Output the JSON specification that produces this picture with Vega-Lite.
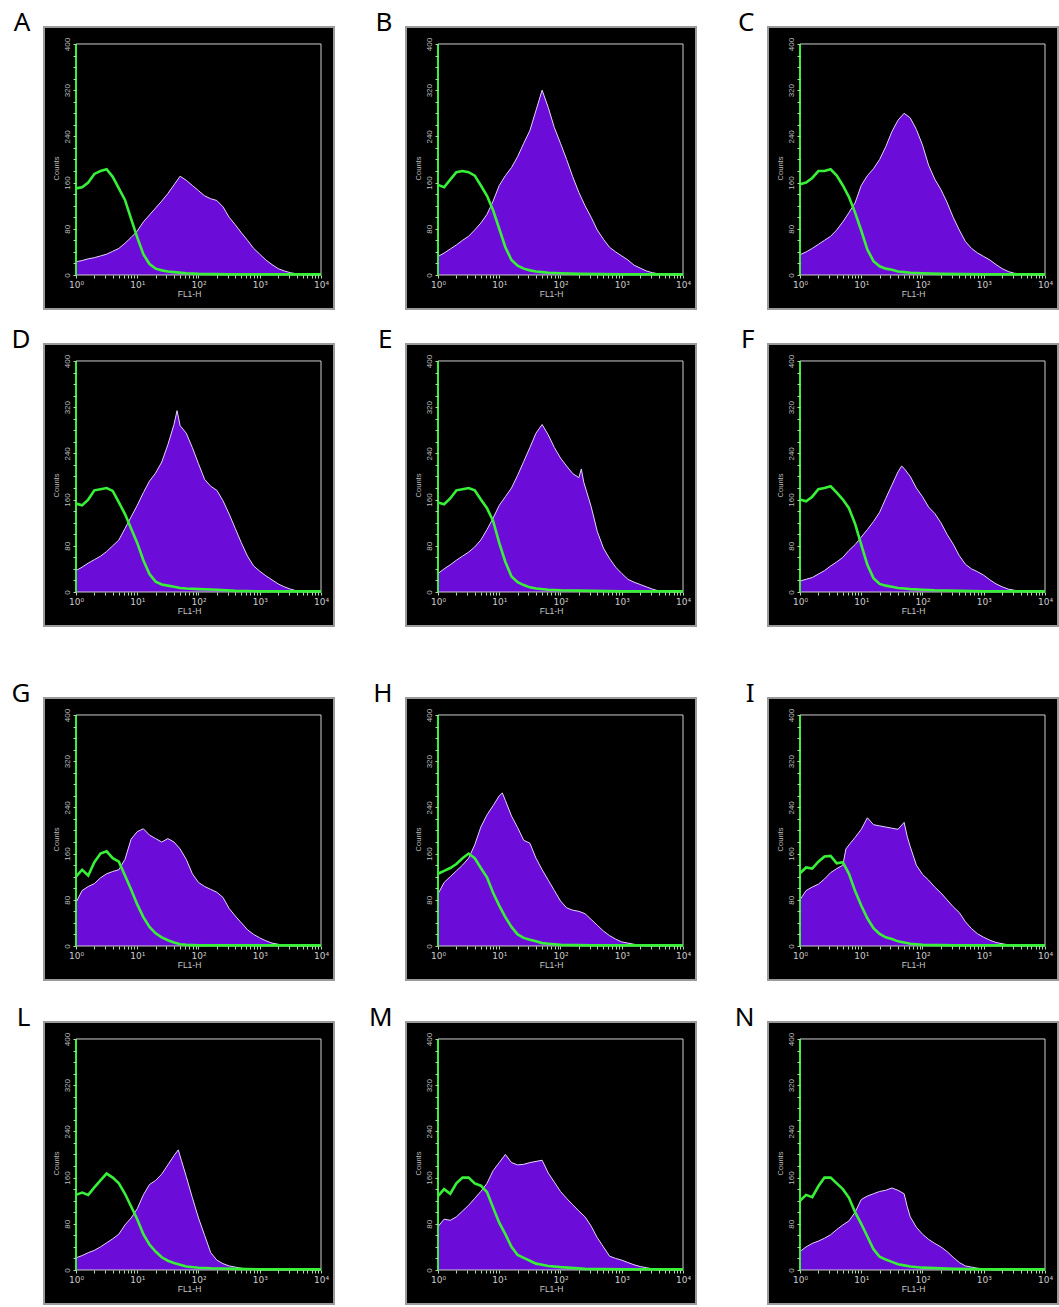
{
"$schema":"https://vega.github.io/schema/vega-lite/v6.json",
"background":"white",
"padding":{"left":10,"top":9,"right":0,"bottom":0},
"datasets":{"h":[
{"p":"A","s":"P","x":0,"y":23},{"p":"A","s":"P","x":0.1,"y":25},{"p":"A","s":"P","x":0.2,"y":28},{"p":"A","s":"P","x":0.3,"y":30},{"p":"A","s":"P","x":0.4,"y":33},{"p":"A","s":"P","x":0.5,"y":36},{"p":"A","s":"P","x":0.6,"y":41},{"p":"A","s":"P","x":0.7,"y":46},{"p":"A","s":"P","x":0.8,"y":55},{"p":"A","s":"P","x":0.9,"y":65},{"p":"A","s":"P","x":1,"y":76},{"p":"A","s":"P","x":1.1,"y":92},{"p":"A","s":"P","x":1.2,"y":104},{"p":"A","s":"P","x":1.3,"y":116},{"p":"A","s":"P","x":1.4,"y":128},{"p":"A","s":"P","x":1.5,"y":141},{"p":"A","s":"P","x":1.6,"y":156},{"p":"A","s":"P","x":1.7,"y":171},{"p":"A","s":"P","x":1.8,"y":164},{"p":"A","s":"P","x":1.9,"y":155},{"p":"A","s":"P","x":2,"y":146},{"p":"A","s":"P","x":2.1,"y":137},{"p":"A","s":"P","x":2.2,"y":132},{"p":"A","s":"P","x":2.3,"y":129},{"p":"A","s":"P","x":2.4,"y":118},{"p":"A","s":"P","x":2.5,"y":100},{"p":"A","s":"P","x":2.6,"y":87},{"p":"A","s":"P","x":2.7,"y":73},{"p":"A","s":"P","x":2.8,"y":60},{"p":"A","s":"P","x":2.9,"y":46},{"p":"A","s":"P","x":3,"y":36},{"p":"A","s":"P","x":3.1,"y":26},{"p":"A","s":"P","x":3.2,"y":18},{"p":"A","s":"P","x":3.3,"y":11},{"p":"A","s":"P","x":3.4,"y":7},{"p":"A","s":"P","x":3.5,"y":4},{"p":"A","s":"P","x":3.6,"y":2},{"p":"A","s":"P","x":3.7,"y":1},{"p":"A","s":"P","x":3.8,"y":0},{"p":"A","s":"P","x":4,"y":0},
{"p":"A","s":"G","x":0,"y":150},{"p":"A","s":"G","x":0.1,"y":152},{"p":"A","s":"G","x":0.2,"y":160},{"p":"A","s":"G","x":0.3,"y":175},{"p":"A","s":"G","x":0.4,"y":180},{"p":"A","s":"G","x":0.5,"y":183},{"p":"A","s":"G","x":0.6,"y":170},{"p":"A","s":"G","x":0.7,"y":150},{"p":"A","s":"G","x":0.8,"y":130},{"p":"A","s":"G","x":0.9,"y":97},{"p":"A","s":"G","x":1,"y":65},{"p":"A","s":"G","x":1.1,"y":36},{"p":"A","s":"G","x":1.2,"y":19},{"p":"A","s":"G","x":1.3,"y":11},{"p":"A","s":"G","x":1.4,"y":8},{"p":"A","s":"G","x":1.5,"y":6},{"p":"A","s":"G","x":1.6,"y":5},{"p":"A","s":"G","x":1.8,"y":3},{"p":"A","s":"G","x":2,"y":2},{"p":"A","s":"G","x":2.5,"y":1},{"p":"A","s":"G","x":4,"y":1},
{"p":"B","s":"P","x":0,"y":32},{"p":"B","s":"P","x":0.1,"y":38},{"p":"B","s":"P","x":0.2,"y":45},{"p":"B","s":"P","x":0.3,"y":52},{"p":"B","s":"P","x":0.4,"y":60},{"p":"B","s":"P","x":0.5,"y":67},{"p":"B","s":"P","x":0.6,"y":78},{"p":"B","s":"P","x":0.7,"y":90},{"p":"B","s":"P","x":0.8,"y":105},{"p":"B","s":"P","x":0.9,"y":128},{"p":"B","s":"P","x":1,"y":155},{"p":"B","s":"P","x":1.1,"y":172},{"p":"B","s":"P","x":1.2,"y":186},{"p":"B","s":"P","x":1.3,"y":205},{"p":"B","s":"P","x":1.4,"y":228},{"p":"B","s":"P","x":1.5,"y":250},{"p":"B","s":"P","x":1.6,"y":285},{"p":"B","s":"P","x":1.7,"y":320},{"p":"B","s":"P","x":1.8,"y":290},{"p":"B","s":"P","x":1.9,"y":255},{"p":"B","s":"P","x":2,"y":228},{"p":"B","s":"P","x":2.1,"y":200},{"p":"B","s":"P","x":2.2,"y":170},{"p":"B","s":"P","x":2.3,"y":143},{"p":"B","s":"P","x":2.4,"y":120},{"p":"B","s":"P","x":2.5,"y":100},{"p":"B","s":"P","x":2.6,"y":78},{"p":"B","s":"P","x":2.7,"y":62},{"p":"B","s":"P","x":2.8,"y":48},{"p":"B","s":"P","x":2.9,"y":40},{"p":"B","s":"P","x":3,"y":33},{"p":"B","s":"P","x":3.1,"y":26},{"p":"B","s":"P","x":3.2,"y":17},{"p":"B","s":"P","x":3.3,"y":12},{"p":"B","s":"P","x":3.4,"y":7},{"p":"B","s":"P","x":3.5,"y":4},{"p":"B","s":"P","x":3.6,"y":2},{"p":"B","s":"P","x":3.7,"y":1},{"p":"B","s":"P","x":3.8,"y":0},{"p":"B","s":"P","x":4,"y":0},
{"p":"B","s":"G","x":0,"y":156},{"p":"B","s":"G","x":0.1,"y":152},{"p":"B","s":"G","x":0.2,"y":165},{"p":"B","s":"G","x":0.3,"y":178},{"p":"B","s":"G","x":0.4,"y":180},{"p":"B","s":"G","x":0.5,"y":178},{"p":"B","s":"G","x":0.6,"y":172},{"p":"B","s":"G","x":0.7,"y":155},{"p":"B","s":"G","x":0.8,"y":137},{"p":"B","s":"G","x":0.9,"y":112},{"p":"B","s":"G","x":1,"y":80},{"p":"B","s":"G","x":1.1,"y":48},{"p":"B","s":"G","x":1.2,"y":26},{"p":"B","s":"G","x":1.3,"y":16},{"p":"B","s":"G","x":1.4,"y":11},{"p":"B","s":"G","x":1.5,"y":8},{"p":"B","s":"G","x":1.6,"y":6},{"p":"B","s":"G","x":1.7,"y":5},{"p":"B","s":"G","x":1.8,"y":4},{"p":"B","s":"G","x":2,"y":3},{"p":"B","s":"G","x":2.3,"y":2},{"p":"B","s":"G","x":3,"y":1},{"p":"B","s":"G","x":4,"y":1},
{"p":"C","s":"P","x":0,"y":35},{"p":"C","s":"P","x":0.1,"y":40},{"p":"C","s":"P","x":0.2,"y":46},{"p":"C","s":"P","x":0.3,"y":53},{"p":"C","s":"P","x":0.4,"y":60},{"p":"C","s":"P","x":0.5,"y":67},{"p":"C","s":"P","x":0.6,"y":78},{"p":"C","s":"P","x":0.7,"y":92},{"p":"C","s":"P","x":0.8,"y":108},{"p":"C","s":"P","x":0.9,"y":125},{"p":"C","s":"P","x":1,"y":155},{"p":"C","s":"P","x":1.1,"y":172},{"p":"C","s":"P","x":1.2,"y":184},{"p":"C","s":"P","x":1.3,"y":200},{"p":"C","s":"P","x":1.4,"y":222},{"p":"C","s":"P","x":1.5,"y":248},{"p":"C","s":"P","x":1.6,"y":268},{"p":"C","s":"P","x":1.7,"y":280},{"p":"C","s":"P","x":1.8,"y":272},{"p":"C","s":"P","x":1.9,"y":252},{"p":"C","s":"P","x":2,"y":225},{"p":"C","s":"P","x":2.1,"y":190},{"p":"C","s":"P","x":2.2,"y":166},{"p":"C","s":"P","x":2.3,"y":148},{"p":"C","s":"P","x":2.4,"y":126},{"p":"C","s":"P","x":2.5,"y":100},{"p":"C","s":"P","x":2.6,"y":78},{"p":"C","s":"P","x":2.7,"y":58},{"p":"C","s":"P","x":2.8,"y":46},{"p":"C","s":"P","x":2.9,"y":38},{"p":"C","s":"P","x":3,"y":32},{"p":"C","s":"P","x":3.1,"y":26},{"p":"C","s":"P","x":3.2,"y":18},{"p":"C","s":"P","x":3.3,"y":11},{"p":"C","s":"P","x":3.4,"y":6},{"p":"C","s":"P","x":3.5,"y":3},{"p":"C","s":"P","x":3.6,"y":2},{"p":"C","s":"P","x":3.7,"y":1},{"p":"C","s":"P","x":3.8,"y":0},{"p":"C","s":"P","x":4,"y":0},
{"p":"C","s":"G","x":0,"y":157},{"p":"C","s":"G","x":0.1,"y":160},{"p":"C","s":"G","x":0.2,"y":168},{"p":"C","s":"G","x":0.3,"y":180},{"p":"C","s":"G","x":0.4,"y":180},{"p":"C","s":"G","x":0.5,"y":183},{"p":"C","s":"G","x":0.6,"y":172},{"p":"C","s":"G","x":0.7,"y":155},{"p":"C","s":"G","x":0.8,"y":135},{"p":"C","s":"G","x":0.9,"y":108},{"p":"C","s":"G","x":1,"y":77},{"p":"C","s":"G","x":1.1,"y":44},{"p":"C","s":"G","x":1.2,"y":24},{"p":"C","s":"G","x":1.3,"y":15},{"p":"C","s":"G","x":1.4,"y":11},{"p":"C","s":"G","x":1.5,"y":9},{"p":"C","s":"G","x":1.6,"y":6},{"p":"C","s":"G","x":1.7,"y":5},{"p":"C","s":"G","x":1.8,"y":4},{"p":"C","s":"G","x":2,"y":3},{"p":"C","s":"G","x":2.3,"y":2},{"p":"C","s":"G","x":3,"y":1},{"p":"C","s":"G","x":4,"y":1},
{"p":"D","s":"P","x":0,"y":37},{"p":"D","s":"P","x":0.1,"y":43},{"p":"D","s":"P","x":0.2,"y":50},{"p":"D","s":"P","x":0.3,"y":56},{"p":"D","s":"P","x":0.4,"y":62},{"p":"D","s":"P","x":0.5,"y":70},{"p":"D","s":"P","x":0.6,"y":80},{"p":"D","s":"P","x":0.7,"y":90},{"p":"D","s":"P","x":0.8,"y":110},{"p":"D","s":"P","x":0.9,"y":130},{"p":"D","s":"P","x":1,"y":150},{"p":"D","s":"P","x":1.1,"y":172},{"p":"D","s":"P","x":1.2,"y":192},{"p":"D","s":"P","x":1.3,"y":206},{"p":"D","s":"P","x":1.4,"y":225},{"p":"D","s":"P","x":1.5,"y":255},{"p":"D","s":"P","x":1.6,"y":290},{"p":"D","s":"P","x":1.65,"y":314},{"p":"D","s":"P","x":1.7,"y":288},{"p":"D","s":"P","x":1.8,"y":275},{"p":"D","s":"P","x":1.9,"y":250},{"p":"D","s":"P","x":2,"y":222},{"p":"D","s":"P","x":2.1,"y":195},{"p":"D","s":"P","x":2.2,"y":183},{"p":"D","s":"P","x":2.3,"y":176},{"p":"D","s":"P","x":2.4,"y":158},{"p":"D","s":"P","x":2.5,"y":135},{"p":"D","s":"P","x":2.6,"y":110},{"p":"D","s":"P","x":2.7,"y":85},{"p":"D","s":"P","x":2.8,"y":62},{"p":"D","s":"P","x":2.9,"y":45},{"p":"D","s":"P","x":3,"y":36},{"p":"D","s":"P","x":3.1,"y":28},{"p":"D","s":"P","x":3.2,"y":21},{"p":"D","s":"P","x":3.3,"y":14},{"p":"D","s":"P","x":3.4,"y":9},{"p":"D","s":"P","x":3.5,"y":5},{"p":"D","s":"P","x":3.6,"y":2},{"p":"D","s":"P","x":3.7,"y":1},{"p":"D","s":"P","x":3.8,"y":0},{"p":"D","s":"P","x":4,"y":0},
{"p":"D","s":"G","x":0,"y":153},{"p":"D","s":"G","x":0.1,"y":150},{"p":"D","s":"G","x":0.2,"y":160},{"p":"D","s":"G","x":0.3,"y":176},{"p":"D","s":"G","x":0.4,"y":178},{"p":"D","s":"G","x":0.5,"y":180},{"p":"D","s":"G","x":0.6,"y":175},{"p":"D","s":"G","x":0.7,"y":155},{"p":"D","s":"G","x":0.8,"y":135},{"p":"D","s":"G","x":0.9,"y":110},{"p":"D","s":"G","x":1,"y":85},{"p":"D","s":"G","x":1.1,"y":55},{"p":"D","s":"G","x":1.2,"y":31},{"p":"D","s":"G","x":1.3,"y":18},{"p":"D","s":"G","x":1.4,"y":13},{"p":"D","s":"G","x":1.5,"y":11},{"p":"D","s":"G","x":1.6,"y":9},{"p":"D","s":"G","x":1.7,"y":7},{"p":"D","s":"G","x":1.8,"y":6},{"p":"D","s":"G","x":2,"y":5},{"p":"D","s":"G","x":2.3,"y":4},{"p":"D","s":"G","x":2.6,"y":2},{"p":"D","s":"G","x":3,"y":1},{"p":"D","s":"G","x":4,"y":1},
{"p":"E","s":"P","x":0,"y":32},{"p":"E","s":"P","x":0.1,"y":40},{"p":"E","s":"P","x":0.2,"y":47},{"p":"E","s":"P","x":0.3,"y":55},{"p":"E","s":"P","x":0.4,"y":62},{"p":"E","s":"P","x":0.5,"y":69},{"p":"E","s":"P","x":0.6,"y":78},{"p":"E","s":"P","x":0.7,"y":90},{"p":"E","s":"P","x":0.8,"y":108},{"p":"E","s":"P","x":0.9,"y":128},{"p":"E","s":"P","x":1,"y":150},{"p":"E","s":"P","x":1.1,"y":165},{"p":"E","s":"P","x":1.2,"y":180},{"p":"E","s":"P","x":1.3,"y":202},{"p":"E","s":"P","x":1.4,"y":226},{"p":"E","s":"P","x":1.5,"y":250},{"p":"E","s":"P","x":1.6,"y":275},{"p":"E","s":"P","x":1.7,"y":290},{"p":"E","s":"P","x":1.8,"y":272},{"p":"E","s":"P","x":1.9,"y":250},{"p":"E","s":"P","x":2,"y":232},{"p":"E","s":"P","x":2.1,"y":218},{"p":"E","s":"P","x":2.2,"y":205},{"p":"E","s":"P","x":2.3,"y":198},{"p":"E","s":"P","x":2.34,"y":213},{"p":"E","s":"P","x":2.38,"y":190},{"p":"E","s":"P","x":2.5,"y":148},{"p":"E","s":"P","x":2.6,"y":105},{"p":"E","s":"P","x":2.7,"y":76},{"p":"E","s":"P","x":2.8,"y":58},{"p":"E","s":"P","x":2.9,"y":43},{"p":"E","s":"P","x":3,"y":32},{"p":"E","s":"P","x":3.1,"y":22},{"p":"E","s":"P","x":3.2,"y":17},{"p":"E","s":"P","x":3.3,"y":13},{"p":"E","s":"P","x":3.4,"y":9},{"p":"E","s":"P","x":3.5,"y":5},{"p":"E","s":"P","x":3.6,"y":2},{"p":"E","s":"P","x":3.7,"y":1},{"p":"E","s":"P","x":3.8,"y":0},{"p":"E","s":"P","x":4,"y":0},
{"p":"E","s":"G","x":0,"y":155},{"p":"E","s":"G","x":0.1,"y":152},{"p":"E","s":"G","x":0.2,"y":162},{"p":"E","s":"G","x":0.3,"y":176},{"p":"E","s":"G","x":0.4,"y":178},{"p":"E","s":"G","x":0.5,"y":180},{"p":"E","s":"G","x":0.6,"y":176},{"p":"E","s":"G","x":0.7,"y":160},{"p":"E","s":"G","x":0.8,"y":145},{"p":"E","s":"G","x":0.9,"y":123},{"p":"E","s":"G","x":1,"y":85},{"p":"E","s":"G","x":1.1,"y":52},{"p":"E","s":"G","x":1.2,"y":27},{"p":"E","s":"G","x":1.3,"y":17},{"p":"E","s":"G","x":1.4,"y":12},{"p":"E","s":"G","x":1.5,"y":8},{"p":"E","s":"G","x":1.6,"y":6},{"p":"E","s":"G","x":1.8,"y":4},{"p":"E","s":"G","x":2,"y":3},{"p":"E","s":"G","x":2.5,"y":2},{"p":"E","s":"G","x":3,"y":1},{"p":"E","s":"G","x":4,"y":1},
{"p":"F","s":"P","x":0,"y":19},{"p":"F","s":"P","x":0.1,"y":22},{"p":"F","s":"P","x":0.2,"y":25},{"p":"F","s":"P","x":0.3,"y":31},{"p":"F","s":"P","x":0.4,"y":37},{"p":"F","s":"P","x":0.5,"y":45},{"p":"F","s":"P","x":0.6,"y":52},{"p":"F","s":"P","x":0.7,"y":60},{"p":"F","s":"P","x":0.8,"y":72},{"p":"F","s":"P","x":0.9,"y":82},{"p":"F","s":"P","x":1,"y":95},{"p":"F","s":"P","x":1.1,"y":108},{"p":"F","s":"P","x":1.2,"y":122},{"p":"F","s":"P","x":1.3,"y":138},{"p":"F","s":"P","x":1.4,"y":162},{"p":"F","s":"P","x":1.5,"y":185},{"p":"F","s":"P","x":1.6,"y":208},{"p":"F","s":"P","x":1.66,"y":218},{"p":"F","s":"P","x":1.7,"y":214},{"p":"F","s":"P","x":1.8,"y":200},{"p":"F","s":"P","x":1.9,"y":180},{"p":"F","s":"P","x":2,"y":165},{"p":"F","s":"P","x":2.1,"y":147},{"p":"F","s":"P","x":2.2,"y":136},{"p":"F","s":"P","x":2.3,"y":120},{"p":"F","s":"P","x":2.4,"y":100},{"p":"F","s":"P","x":2.5,"y":83},{"p":"F","s":"P","x":2.6,"y":63},{"p":"F","s":"P","x":2.7,"y":48},{"p":"F","s":"P","x":2.8,"y":40},{"p":"F","s":"P","x":2.9,"y":35},{"p":"F","s":"P","x":3,"y":29},{"p":"F","s":"P","x":3.1,"y":21},{"p":"F","s":"P","x":3.2,"y":14},{"p":"F","s":"P","x":3.3,"y":9},{"p":"F","s":"P","x":3.4,"y":5},{"p":"F","s":"P","x":3.5,"y":3},{"p":"F","s":"P","x":3.6,"y":1},{"p":"F","s":"P","x":3.7,"y":0},{"p":"F","s":"P","x":4,"y":0},
{"p":"F","s":"G","x":0,"y":160},{"p":"F","s":"G","x":0.1,"y":157},{"p":"F","s":"G","x":0.2,"y":165},{"p":"F","s":"G","x":0.3,"y":178},{"p":"F","s":"G","x":0.4,"y":180},{"p":"F","s":"G","x":0.5,"y":183},{"p":"F","s":"G","x":0.6,"y":172},{"p":"F","s":"G","x":0.7,"y":160},{"p":"F","s":"G","x":0.8,"y":145},{"p":"F","s":"G","x":0.9,"y":118},{"p":"F","s":"G","x":1,"y":82},{"p":"F","s":"G","x":1.1,"y":47},{"p":"F","s":"G","x":1.2,"y":24},{"p":"F","s":"G","x":1.3,"y":14},{"p":"F","s":"G","x":1.4,"y":11},{"p":"F","s":"G","x":1.5,"y":9},{"p":"F","s":"G","x":1.6,"y":7},{"p":"F","s":"G","x":1.7,"y":6},{"p":"F","s":"G","x":1.8,"y":5},{"p":"F","s":"G","x":2,"y":4},{"p":"F","s":"G","x":2.2,"y":3},{"p":"F","s":"G","x":2.6,"y":2},{"p":"F","s":"G","x":3,"y":1},{"p":"F","s":"G","x":4,"y":1},
{"p":"G","s":"P","x":0,"y":75},{"p":"G","s":"P","x":0.1,"y":96},{"p":"G","s":"P","x":0.2,"y":103},{"p":"G","s":"P","x":0.3,"y":108},{"p":"G","s":"P","x":0.4,"y":118},{"p":"G","s":"P","x":0.5,"y":125},{"p":"G","s":"P","x":0.6,"y":129},{"p":"G","s":"P","x":0.7,"y":132},{"p":"G","s":"P","x":0.8,"y":150},{"p":"G","s":"P","x":0.9,"y":185},{"p":"G","s":"P","x":1,"y":198},{"p":"G","s":"P","x":1.1,"y":203},{"p":"G","s":"P","x":1.2,"y":192},{"p":"G","s":"P","x":1.3,"y":186},{"p":"G","s":"P","x":1.4,"y":180},{"p":"G","s":"P","x":1.5,"y":186},{"p":"G","s":"P","x":1.6,"y":180},{"p":"G","s":"P","x":1.7,"y":168},{"p":"G","s":"P","x":1.8,"y":150},{"p":"G","s":"P","x":1.9,"y":125},{"p":"G","s":"P","x":2,"y":110},{"p":"G","s":"P","x":2.1,"y":103},{"p":"G","s":"P","x":2.2,"y":98},{"p":"G","s":"P","x":2.3,"y":93},{"p":"G","s":"P","x":2.4,"y":84},{"p":"G","s":"P","x":2.5,"y":65},{"p":"G","s":"P","x":2.6,"y":52},{"p":"G","s":"P","x":2.7,"y":40},{"p":"G","s":"P","x":2.8,"y":28},{"p":"G","s":"P","x":2.9,"y":20},{"p":"G","s":"P","x":3,"y":14},{"p":"G","s":"P","x":3.1,"y":9},{"p":"G","s":"P","x":3.2,"y":5},{"p":"G","s":"P","x":3.3,"y":3},{"p":"G","s":"P","x":3.4,"y":1},{"p":"G","s":"P","x":3.5,"y":0},{"p":"G","s":"P","x":4,"y":0},
{"p":"G","s":"G","x":0,"y":120},{"p":"G","s":"G","x":0.1,"y":132},{"p":"G","s":"G","x":0.2,"y":122},{"p":"G","s":"G","x":0.3,"y":145},{"p":"G","s":"G","x":0.4,"y":160},{"p":"G","s":"G","x":0.5,"y":164},{"p":"G","s":"G","x":0.6,"y":152},{"p":"G","s":"G","x":0.7,"y":146},{"p":"G","s":"G","x":0.8,"y":122},{"p":"G","s":"G","x":0.9,"y":98},{"p":"G","s":"G","x":1,"y":72},{"p":"G","s":"G","x":1.1,"y":50},{"p":"G","s":"G","x":1.2,"y":33},{"p":"G","s":"G","x":1.3,"y":22},{"p":"G","s":"G","x":1.4,"y":15},{"p":"G","s":"G","x":1.5,"y":10},{"p":"G","s":"G","x":1.6,"y":6},{"p":"G","s":"G","x":1.7,"y":3},{"p":"G","s":"G","x":1.8,"y":2},{"p":"G","s":"G","x":2,"y":1},{"p":"G","s":"G","x":4,"y":1},
{"p":"H","s":"P","x":0,"y":90},{"p":"H","s":"P","x":0.1,"y":110},{"p":"H","s":"P","x":0.2,"y":120},{"p":"H","s":"P","x":0.3,"y":130},{"p":"H","s":"P","x":0.4,"y":140},{"p":"H","s":"P","x":0.5,"y":152},{"p":"H","s":"P","x":0.6,"y":175},{"p":"H","s":"P","x":0.7,"y":206},{"p":"H","s":"P","x":0.8,"y":227},{"p":"H","s":"P","x":0.9,"y":243},{"p":"H","s":"P","x":1,"y":260},{"p":"H","s":"P","x":1.05,"y":265},{"p":"H","s":"P","x":1.1,"y":252},{"p":"H","s":"P","x":1.2,"y":225},{"p":"H","s":"P","x":1.3,"y":205},{"p":"H","s":"P","x":1.4,"y":183},{"p":"H","s":"P","x":1.5,"y":178},{"p":"H","s":"P","x":1.6,"y":152},{"p":"H","s":"P","x":1.7,"y":132},{"p":"H","s":"P","x":1.8,"y":114},{"p":"H","s":"P","x":1.9,"y":96},{"p":"H","s":"P","x":2,"y":78},{"p":"H","s":"P","x":2.1,"y":66},{"p":"H","s":"P","x":2.2,"y":62},{"p":"H","s":"P","x":2.3,"y":60},{"p":"H","s":"P","x":2.4,"y":56},{"p":"H","s":"P","x":2.5,"y":46},{"p":"H","s":"P","x":2.6,"y":36},{"p":"H","s":"P","x":2.7,"y":26},{"p":"H","s":"P","x":2.8,"y":18},{"p":"H","s":"P","x":2.9,"y":12},{"p":"H","s":"P","x":3,"y":7},{"p":"H","s":"P","x":3.1,"y":5},{"p":"H","s":"P","x":3.2,"y":3},{"p":"H","s":"P","x":3.3,"y":1},{"p":"H","s":"P","x":3.4,"y":0},{"p":"H","s":"P","x":4,"y":0},
{"p":"H","s":"G","x":0,"y":125},{"p":"H","s":"G","x":0.1,"y":130},{"p":"H","s":"G","x":0.2,"y":135},{"p":"H","s":"G","x":0.3,"y":142},{"p":"H","s":"G","x":0.4,"y":152},{"p":"H","s":"G","x":0.5,"y":160},{"p":"H","s":"G","x":0.6,"y":152},{"p":"H","s":"G","x":0.7,"y":135},{"p":"H","s":"G","x":0.8,"y":119},{"p":"H","s":"G","x":0.9,"y":92},{"p":"H","s":"G","x":1,"y":70},{"p":"H","s":"G","x":1.1,"y":50},{"p":"H","s":"G","x":1.2,"y":33},{"p":"H","s":"G","x":1.3,"y":20},{"p":"H","s":"G","x":1.4,"y":14},{"p":"H","s":"G","x":1.5,"y":11},{"p":"H","s":"G","x":1.6,"y":8},{"p":"H","s":"G","x":1.7,"y":5},{"p":"H","s":"G","x":1.8,"y":4},{"p":"H","s":"G","x":2,"y":2},{"p":"H","s":"G","x":2.5,"y":1},{"p":"H","s":"G","x":4,"y":1},
{"p":"I","s":"P","x":0,"y":80},{"p":"I","s":"P","x":0.1,"y":96},{"p":"I","s":"P","x":0.2,"y":102},{"p":"I","s":"P","x":0.3,"y":107},{"p":"I","s":"P","x":0.4,"y":116},{"p":"I","s":"P","x":0.5,"y":127},{"p":"I","s":"P","x":0.6,"y":134},{"p":"I","s":"P","x":0.7,"y":140},{"p":"I","s":"P","x":0.75,"y":168},{"p":"I","s":"P","x":0.8,"y":175},{"p":"I","s":"P","x":0.9,"y":188},{"p":"I","s":"P","x":1,"y":202},{"p":"I","s":"P","x":1.1,"y":222},{"p":"I","s":"P","x":1.2,"y":210},{"p":"I","s":"P","x":1.3,"y":208},{"p":"I","s":"P","x":1.4,"y":206},{"p":"I","s":"P","x":1.5,"y":204},{"p":"I","s":"P","x":1.6,"y":202},{"p":"I","s":"P","x":1.7,"y":214},{"p":"I","s":"P","x":1.75,"y":190},{"p":"I","s":"P","x":1.8,"y":172},{"p":"I","s":"P","x":1.9,"y":140},{"p":"I","s":"P","x":2,"y":124},{"p":"I","s":"P","x":2.1,"y":114},{"p":"I","s":"P","x":2.2,"y":102},{"p":"I","s":"P","x":2.3,"y":92},{"p":"I","s":"P","x":2.4,"y":80},{"p":"I","s":"P","x":2.5,"y":68},{"p":"I","s":"P","x":2.6,"y":58},{"p":"I","s":"P","x":2.7,"y":42},{"p":"I","s":"P","x":2.8,"y":30},{"p":"I","s":"P","x":2.9,"y":21},{"p":"I","s":"P","x":3,"y":15},{"p":"I","s":"P","x":3.1,"y":10},{"p":"I","s":"P","x":3.2,"y":6},{"p":"I","s":"P","x":3.3,"y":4},{"p":"I","s":"P","x":3.4,"y":2},{"p":"I","s":"P","x":3.5,"y":0},{"p":"I","s":"P","x":4,"y":0},
{"p":"I","s":"G","x":0,"y":126},{"p":"I","s":"G","x":0.1,"y":136},{"p":"I","s":"G","x":0.2,"y":134},{"p":"I","s":"G","x":0.3,"y":146},{"p":"I","s":"G","x":0.4,"y":155},{"p":"I","s":"G","x":0.5,"y":156},{"p":"I","s":"G","x":0.6,"y":143},{"p":"I","s":"G","x":0.7,"y":145},{"p":"I","s":"G","x":0.8,"y":125},{"p":"I","s":"G","x":0.9,"y":95},{"p":"I","s":"G","x":1,"y":70},{"p":"I","s":"G","x":1.1,"y":48},{"p":"I","s":"G","x":1.2,"y":31},{"p":"I","s":"G","x":1.3,"y":21},{"p":"I","s":"G","x":1.4,"y":15},{"p":"I","s":"G","x":1.5,"y":12},{"p":"I","s":"G","x":1.6,"y":8},{"p":"I","s":"G","x":1.8,"y":4},{"p":"I","s":"G","x":2,"y":2},{"p":"I","s":"G","x":2.5,"y":1},{"p":"I","s":"G","x":4,"y":1},
{"p":"L","s":"P","x":0,"y":21},{"p":"L","s":"P","x":0.1,"y":25},{"p":"L","s":"P","x":0.2,"y":30},{"p":"L","s":"P","x":0.3,"y":34},{"p":"L","s":"P","x":0.4,"y":40},{"p":"L","s":"P","x":0.5,"y":47},{"p":"L","s":"P","x":0.6,"y":54},{"p":"L","s":"P","x":0.7,"y":62},{"p":"L","s":"P","x":0.8,"y":78},{"p":"L","s":"P","x":0.9,"y":90},{"p":"L","s":"P","x":1,"y":106},{"p":"L","s":"P","x":1.1,"y":130},{"p":"L","s":"P","x":1.2,"y":148},{"p":"L","s":"P","x":1.3,"y":155},{"p":"L","s":"P","x":1.4,"y":166},{"p":"L","s":"P","x":1.5,"y":182},{"p":"L","s":"P","x":1.6,"y":198},{"p":"L","s":"P","x":1.67,"y":208},{"p":"L","s":"P","x":1.72,"y":190},{"p":"L","s":"P","x":1.8,"y":162},{"p":"L","s":"P","x":1.9,"y":125},{"p":"L","s":"P","x":2,"y":90},{"p":"L","s":"P","x":2.1,"y":60},{"p":"L","s":"P","x":2.2,"y":30},{"p":"L","s":"P","x":2.3,"y":17},{"p":"L","s":"P","x":2.4,"y":11},{"p":"L","s":"P","x":2.5,"y":7},{"p":"L","s":"P","x":2.6,"y":5},{"p":"L","s":"P","x":2.7,"y":3},{"p":"L","s":"P","x":2.8,"y":2},{"p":"L","s":"P","x":2.9,"y":1},{"p":"L","s":"P","x":3,"y":0},{"p":"L","s":"P","x":4,"y":0},
{"p":"L","s":"G","x":0,"y":130},{"p":"L","s":"G","x":0.1,"y":134},{"p":"L","s":"G","x":0.2,"y":130},{"p":"L","s":"G","x":0.3,"y":143},{"p":"L","s":"G","x":0.4,"y":155},{"p":"L","s":"G","x":0.5,"y":167},{"p":"L","s":"G","x":0.6,"y":160},{"p":"L","s":"G","x":0.7,"y":150},{"p":"L","s":"G","x":0.8,"y":132},{"p":"L","s":"G","x":0.9,"y":110},{"p":"L","s":"G","x":1,"y":88},{"p":"L","s":"G","x":1.1,"y":62},{"p":"L","s":"G","x":1.2,"y":44},{"p":"L","s":"G","x":1.3,"y":32},{"p":"L","s":"G","x":1.4,"y":22},{"p":"L","s":"G","x":1.5,"y":16},{"p":"L","s":"G","x":1.6,"y":12},{"p":"L","s":"G","x":1.7,"y":9},{"p":"L","s":"G","x":1.8,"y":6},{"p":"L","s":"G","x":2,"y":4},{"p":"L","s":"G","x":2.2,"y":3},{"p":"L","s":"G","x":2.6,"y":2},{"p":"L","s":"G","x":3,"y":1},{"p":"L","s":"G","x":4,"y":1},
{"p":"M","s":"P","x":0,"y":75},{"p":"M","s":"P","x":0.1,"y":88},{"p":"M","s":"P","x":0.2,"y":86},{"p":"M","s":"P","x":0.3,"y":92},{"p":"M","s":"P","x":0.4,"y":102},{"p":"M","s":"P","x":0.5,"y":112},{"p":"M","s":"P","x":0.6,"y":124},{"p":"M","s":"P","x":0.7,"y":136},{"p":"M","s":"P","x":0.8,"y":150},{"p":"M","s":"P","x":0.9,"y":172},{"p":"M","s":"P","x":1,"y":186},{"p":"M","s":"P","x":1.1,"y":200},{"p":"M","s":"P","x":1.2,"y":186},{"p":"M","s":"P","x":1.3,"y":182},{"p":"M","s":"P","x":1.4,"y":183},{"p":"M","s":"P","x":1.5,"y":186},{"p":"M","s":"P","x":1.6,"y":188},{"p":"M","s":"P","x":1.7,"y":190},{"p":"M","s":"P","x":1.8,"y":168},{"p":"M","s":"P","x":1.9,"y":152},{"p":"M","s":"P","x":2,"y":136},{"p":"M","s":"P","x":2.1,"y":124},{"p":"M","s":"P","x":2.2,"y":113},{"p":"M","s":"P","x":2.3,"y":102},{"p":"M","s":"P","x":2.4,"y":92},{"p":"M","s":"P","x":2.5,"y":76},{"p":"M","s":"P","x":2.6,"y":56},{"p":"M","s":"P","x":2.7,"y":40},{"p":"M","s":"P","x":2.8,"y":24},{"p":"M","s":"P","x":2.9,"y":20},{"p":"M","s":"P","x":3,"y":17},{"p":"M","s":"P","x":3.1,"y":13},{"p":"M","s":"P","x":3.2,"y":9},{"p":"M","s":"P","x":3.3,"y":6},{"p":"M","s":"P","x":3.4,"y":4},{"p":"M","s":"P","x":3.5,"y":2},{"p":"M","s":"P","x":3.6,"y":0},{"p":"M","s":"P","x":4,"y":0},
{"p":"M","s":"G","x":0,"y":128},{"p":"M","s":"G","x":0.1,"y":140},{"p":"M","s":"G","x":0.2,"y":132},{"p":"M","s":"G","x":0.3,"y":150},{"p":"M","s":"G","x":0.4,"y":160},{"p":"M","s":"G","x":0.5,"y":160},{"p":"M","s":"G","x":0.6,"y":150},{"p":"M","s":"G","x":0.7,"y":146},{"p":"M","s":"G","x":0.8,"y":135},{"p":"M","s":"G","x":0.9,"y":108},{"p":"M","s":"G","x":1,"y":82},{"p":"M","s":"G","x":1.1,"y":62},{"p":"M","s":"G","x":1.2,"y":40},{"p":"M","s":"G","x":1.3,"y":26},{"p":"M","s":"G","x":1.4,"y":21},{"p":"M","s":"G","x":1.5,"y":16},{"p":"M","s":"G","x":1.6,"y":11},{"p":"M","s":"G","x":1.7,"y":9},{"p":"M","s":"G","x":1.8,"y":7},{"p":"M","s":"G","x":2,"y":5},{"p":"M","s":"G","x":2.4,"y":2},{"p":"M","s":"G","x":3,"y":1},{"p":"M","s":"G","x":4,"y":1},
{"p":"N","s":"P","x":0,"y":32},{"p":"N","s":"P","x":0.1,"y":40},{"p":"N","s":"P","x":0.2,"y":46},{"p":"N","s":"P","x":0.3,"y":50},{"p":"N","s":"P","x":0.4,"y":55},{"p":"N","s":"P","x":0.5,"y":61},{"p":"N","s":"P","x":0.6,"y":70},{"p":"N","s":"P","x":0.7,"y":78},{"p":"N","s":"P","x":0.8,"y":85},{"p":"N","s":"P","x":0.9,"y":100},{"p":"N","s":"P","x":1,"y":122},{"p":"N","s":"P","x":1.1,"y":128},{"p":"N","s":"P","x":1.2,"y":132},{"p":"N","s":"P","x":1.3,"y":136},{"p":"N","s":"P","x":1.4,"y":138},{"p":"N","s":"P","x":1.5,"y":142},{"p":"N","s":"P","x":1.6,"y":138},{"p":"N","s":"P","x":1.7,"y":132},{"p":"N","s":"P","x":1.75,"y":110},{"p":"N","s":"P","x":1.8,"y":92},{"p":"N","s":"P","x":1.9,"y":74},{"p":"N","s":"P","x":2,"y":62},{"p":"N","s":"P","x":2.1,"y":53},{"p":"N","s":"P","x":2.2,"y":46},{"p":"N","s":"P","x":2.3,"y":40},{"p":"N","s":"P","x":2.4,"y":32},{"p":"N","s":"P","x":2.5,"y":22},{"p":"N","s":"P","x":2.6,"y":13},{"p":"N","s":"P","x":2.7,"y":7},{"p":"N","s":"P","x":2.8,"y":5},{"p":"N","s":"P","x":2.9,"y":3},{"p":"N","s":"P","x":3,"y":2},{"p":"N","s":"P","x":3.1,"y":1},{"p":"N","s":"P","x":3.2,"y":0},{"p":"N","s":"P","x":4,"y":0},
{"p":"N","s":"G","x":0,"y":120},{"p":"N","s":"G","x":0.1,"y":130},{"p":"N","s":"G","x":0.2,"y":126},{"p":"N","s":"G","x":0.3,"y":145},{"p":"N","s":"G","x":0.4,"y":160},{"p":"N","s":"G","x":0.5,"y":160},{"p":"N","s":"G","x":0.6,"y":150},{"p":"N","s":"G","x":0.7,"y":140},{"p":"N","s":"G","x":0.8,"y":125},{"p":"N","s":"G","x":0.9,"y":100},{"p":"N","s":"G","x":1,"y":80},{"p":"N","s":"G","x":1.1,"y":58},{"p":"N","s":"G","x":1.2,"y":36},{"p":"N","s":"G","x":1.3,"y":23},{"p":"N","s":"G","x":1.4,"y":18},{"p":"N","s":"G","x":1.5,"y":14},{"p":"N","s":"G","x":1.6,"y":10},{"p":"N","s":"G","x":1.7,"y":8},{"p":"N","s":"G","x":1.8,"y":6},{"p":"N","s":"G","x":2,"y":4},{"p":"N","s":"G","x":2.5,"y":2},{"p":"N","s":"G","x":3,"y":1},{"p":"N","s":"G","x":4,"y":1}
]},
"data":{"name":"h"},
"config":{"view":{"fill":"black","stroke":"#9a9a9a","strokeWidth":2},"font":"Liberation Sans"},
"spacing":53,
"vconcat":[
{"transform":[{"filter":"indexof(['A','B','C','D','E','F'], datum.p) >= 0"}],
 "columns":3,"spacing":{"row":35,"column":72},"bounds":"flush",
 "resolve":{"axis":{"x":"independent","y":"independent"}},
 "facet":{"field":"p","type":"nominal","header":{"title":null,"labelFontSize":26,"labelFont":"Noto Sans","labelColor":"black","labelAnchor":"start","labelAlign":"right","labelPadding":-9,"labelExpr":"datum.value + '\u00a0\u00a0\u200b'"}},
 "spec":{"width":290,"height":282,
  "encoding":{
   "x":{"field":"x","type":"quantitative","scale":{"domain":[-0.522,4.212],"nice":false,"zero":false},
     "axis":{"values":[0,0.301,0.477,0.602,0.699,0.778,0.845,0.903,0.954,1,1.301,1.477,1.602,1.699,1.778,1.845,1.903,1.954,2,2.301,2.477,2.602,2.699,2.778,2.845,2.903,2.954,3,3.301,3.477,3.602,3.699,3.778,3.845,3.903,3.954,4],
      "labelExpr":"datum.value == 0 ? '10⁰' : datum.value == 1 ? '10¹' : datum.value == 2 ? '10²' : datum.value == 3 ? '10³' : datum.value == 4 ? '10⁴' : ''",
      "offset":-34,"domain":false,"grid":false,"zindex":1,"tickColor":"#a8e0a8","tickSize":3,"labelColor":"#cccccc","labelFont":"DejaVu Sans","labelFontSize":9,"labelPadding":2,"labelOverlap":false,"labelFlush":false,
      "title":"FL1-H","titleColor":"#c8c8c8","titleFontSize":8.5,"titleFontWeight":"normal","titlePadding":0}},
   "y":{"field":"y","type":"quantitative","scale":{"domain":[-58.9,429.4],"nice":false,"zero":false},
     "axis":{"values":[0,20,40,60,80,100,120,140,160,180,200,220,240,260,280,300,320,340,360,380,400],
      "labelExpr":"datum.value % 80 == 0 ? datum.label : ''",
      "offset":-32,"domain":false,"grid":false,"zindex":1,"tickColor":"#a8e0a8","tickSize":3,"labelAngle":270,"labelAlign":"center","labelBaseline":"bottom","labelColor":"#bdbdbd","labelFontSize":8,"labelPadding":2,"labelOverlap":false,"labelFlush":false,
      "title":"Counts","titleColor":"#bdbdbd","titleFontSize":7.5,"titleFontWeight":"normal","titlePadding":3}}
  },
  "layer":[
   {"transform":[{"filter":"datum.s == 'P'"}],"mark":{"type":"area","color":"#6c0cd8","opacity":1,"fillOpacity":1,"line":{"color":"#e4d4ff","strokeWidth":1}},"encoding":{"y2":{"datum":0}}},
   {"transform":[{"filter":"datum.s == 'G' && datum.x == 0"}],"mark":{"type":"rect","fill":"black","fillOpacity":0,"stroke":"#cfcfcf","strokeWidth":1},"encoding":{"x":{"datum":0},"x2":{"datum":4},"y":{"datum":0},"y2":{"datum":400}}},
   {"transform":[{"filter":"datum.s == 'G'"}],"mark":{"type":"line","color":"#39f039","strokeWidth":2.6}},
   {"transform":[{"filter":"datum.s == 'G' && datum.x == 0"}],"mark":{"type":"rule","color":"#39f039","strokeWidth":2},"encoding":{"x":{"datum":0},"y":{"datum":0},"y2":{"datum":400}}}
  ]}
},
{"transform":[{"filter":"indexof(['G','H','I','L','M','N'], datum.p) >= 0"}],
 "columns":3,"spacing":{"row":42,"column":72},"bounds":"flush",
 "resolve":{"axis":{"x":"independent","y":"independent"}},
 "facet":{"field":"p","type":"nominal","header":{"title":null,"labelFontSize":26,"labelFont":"Noto Sans","labelColor":"black","labelAnchor":"start","labelAlign":"right","labelPadding":-9,"labelExpr":"datum.value + '\u00a0\u00a0\u200b'"}},
 "spec":{"width":290,"height":282,
  "encoding":{
   "x":{"field":"x","type":"quantitative","scale":{"domain":[-0.522,4.212],"nice":false,"zero":false},
     "axis":{"values":[0,0.301,0.477,0.602,0.699,0.778,0.845,0.903,0.954,1,1.301,1.477,1.602,1.699,1.778,1.845,1.903,1.954,2,2.301,2.477,2.602,2.699,2.778,2.845,2.903,2.954,3,3.301,3.477,3.602,3.699,3.778,3.845,3.903,3.954,4],
      "labelExpr":"datum.value == 0 ? '10⁰' : datum.value == 1 ? '10¹' : datum.value == 2 ? '10²' : datum.value == 3 ? '10³' : datum.value == 4 ? '10⁴' : ''",
      "offset":-34,"domain":false,"grid":false,"zindex":1,"tickColor":"#a8e0a8","tickSize":3,"labelColor":"#cccccc","labelFont":"DejaVu Sans","labelFontSize":9,"labelPadding":2,"labelOverlap":false,"labelFlush":false,
      "title":"FL1-H","titleColor":"#c8c8c8","titleFontSize":8.5,"titleFontWeight":"normal","titlePadding":0}},
   "y":{"field":"y","type":"quantitative","scale":{"domain":[-58.9,429.4],"nice":false,"zero":false},
     "axis":{"values":[0,20,40,60,80,100,120,140,160,180,200,220,240,260,280,300,320,340,360,380,400],
      "labelExpr":"datum.value % 80 == 0 ? datum.label : ''",
      "offset":-32,"domain":false,"grid":false,"zindex":1,"tickColor":"#a8e0a8","tickSize":3,"labelAngle":270,"labelAlign":"center","labelBaseline":"bottom","labelColor":"#bdbdbd","labelFontSize":8,"labelPadding":2,"labelOverlap":false,"labelFlush":false,
      "title":"Counts","titleColor":"#bdbdbd","titleFontSize":7.5,"titleFontWeight":"normal","titlePadding":3}}
  },
  "layer":[
   {"transform":[{"filter":"datum.s == 'P'"}],"mark":{"type":"area","color":"#6c0cd8","opacity":1,"fillOpacity":1,"line":{"color":"#e4d4ff","strokeWidth":1}},"encoding":{"y2":{"datum":0}}},
   {"transform":[{"filter":"datum.s == 'G' && datum.x == 0"}],"mark":{"type":"rect","fill":"black","fillOpacity":0,"stroke":"#cfcfcf","strokeWidth":1},"encoding":{"x":{"datum":0},"x2":{"datum":4},"y":{"datum":0},"y2":{"datum":400}}},
   {"transform":[{"filter":"datum.s == 'G'"}],"mark":{"type":"line","color":"#39f039","strokeWidth":2.6}},
   {"transform":[{"filter":"datum.s == 'G' && datum.x == 0"}],"mark":{"type":"rule","color":"#39f039","strokeWidth":2},"encoding":{"x":{"datum":0},"y":{"datum":0},"y2":{"datum":400}}}
  ]}
}
]
}
